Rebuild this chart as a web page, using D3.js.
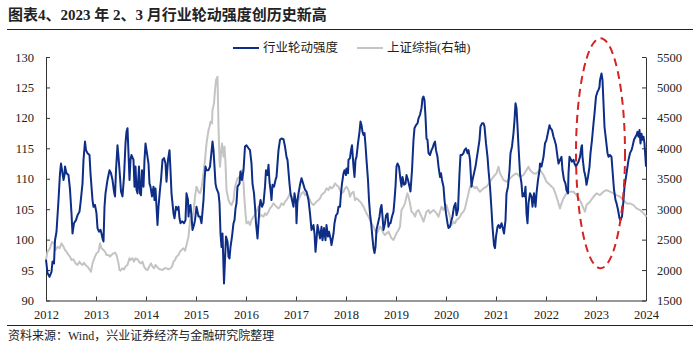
<!DOCTYPE html>
<html>
<head>
<meta charset="utf-8">
<script src="https://cdn.jsdelivr.net/npm/d3@7/dist/d3.min.js"></script>
<style>
  html, body { margin: 0; padding: 0; background: #fff; }
  svg { display: block; }
</style>
</head>
<body>
<svg id="chart" width="700" height="349"></svg>
<script>
// Industry rotation strength (left axis), weekly readings [decimal year, value]
const rotationStrength = [
  [2012.00,96.7],[2012.03,94.5],[2012.07,93.9],[2012.11,94.7],[2012.13,96.4],[2012.16,96.1],[2012.18,99.9],[2012.21,101.3],
  [2012.25,106.5],[2012.28,110.9],[2012.30,112.5],[2012.33,110.9],[2012.35,109.8],[2012.37,110.6],[2012.38,112.0],[2012.41,110.9],
  [2012.45,110.6],[2012.48,108.2],[2012.51,104.3],[2012.53,101.0],[2012.56,102.7],[2012.60,103.2],[2012.63,104.0],[2012.67,104.6],
  [2012.69,106.0],[2012.73,109.2],[2012.75,113.1],[2012.78,116.1],[2012.80,114.7],[2012.83,114.2],[2012.87,113.9],[2012.89,110.9],
  [2012.93,106.5],[2012.95,105.4],[2012.98,105.7],[2013.01,104.3],[2013.03,101.9],[2013.06,101.3],[2013.09,101.6],[2013.11,101.0],
  [2013.13,100.2],[2013.15,99.7],[2013.17,105.4],[2013.19,107.6],[2013.23,109.8],[2013.27,111.4],[2013.30,110.9],[2013.33,109.8],
  [2013.36,107.9],[2013.38,107.1],[2013.40,111.4],[2013.43,115.5],[2013.45,113.6],[2013.48,110.3],[2013.50,107.9],[2013.53,107.1],
  [2013.56,110.3],[2013.59,115.8],[2013.61,117.7],[2013.63,118.3],[2013.65,114.2],[2013.67,109.8],[2013.69,113.1],[2013.71,113.9],
  [2013.75,113.1],[2013.77,108.7],[2013.79,112.0],[2013.81,108.2],[2013.83,107.6],[2013.86,112.0],[2013.88,107.6],[2013.90,107.3],
  [2013.92,111.4],[2013.95,108.7],[2013.97,113.1],[2013.99,115.8],[2014.01,114.7],[2014.05,112.5],[2014.07,109.2],[2014.09,108.7],
  [2014.12,107.1],[2014.15,108.7],[2014.17,106.5],[2014.19,108.4],[2014.21,105.4],[2014.23,102.4],[2014.25,105.4],[2014.28,108.2],
  [2014.30,109.8],[2014.33,113.1],[2014.36,113.4],[2014.39,112.5],[2014.41,109.5],[2014.44,113.1],[2014.47,114.7],[2014.49,111.4],
  [2014.51,107.6],[2014.55,104.3],[2014.57,103.5],[2014.60,105.4],[2014.63,104.9],[2014.65,105.4],[2014.67,103.5],[2014.69,102.7],
  [2014.72,103.0],[2014.76,102.7],[2014.79,103.2],[2014.81,107.6],[2014.84,106.5],[2014.85,103.8],[2014.87,105.4],[2014.89,105.7],
  [2014.91,103.8],[2014.93,101.6],[2014.96,102.4],[2014.98,103.2],[2015.01,105.4],[2015.05,103.8],
  [2015.08,103.8],[2015.11,102.7],[2015.15,106.5],[2015.17,109.8],[2015.19,112.0],[2015.21,111.4],[2015.25,111.4],[2015.28,112.0],
  [2015.30,113.6],[2015.33,116.1],[2015.35,114.7],[2015.37,112.0],[2015.39,109.2],[2015.41,108.4],[2015.45,107.6],[2015.47,106.0],
  [2015.49,101.0],[2015.51,98.8],[2015.53,101.0],[2015.55,95.6],[2015.56,92.8],[2015.58,96.7],[2015.60,100.5],[2015.63,99.7],
  [2015.65,97.2],[2015.67,96.9],[2015.69,98.8],[2015.72,100.5],[2015.75,102.7],[2015.77,103.2],[2015.79,105.1],[2015.81,106.0],
  [2015.83,108.7],[2015.87,109.2],[2015.89,111.2],[2015.92,109.8],[2015.95,111.4],[2015.98,115.3],[2016.01,115.5],[2016.05,115.0],
  [2016.08,114.7],[2016.11,112.5],[2016.13,109.2],[2016.16,107.6],[2016.18,105.4],[2016.20,102.7],[2016.23,100.2],[2016.25,102.7],
  [2016.27,105.4],[2016.29,106.5],[2016.32,105.4],[2016.35,106.0],[2016.38,108.7],[2016.40,111.4],[2016.43,110.6],[2016.45,112.3],
  [2016.47,109.5],[2016.49,108.2],[2016.51,106.5],[2016.53,109.0],[2016.56,108.7],[2016.59,109.8],[2016.61,110.3],[2016.65,114.7],
  [2016.68,116.4],[2016.71,116.6],[2016.75,116.5],[2016.78,115.3],[2016.81,113.6],[2016.83,113.1],[2016.87,109.2],[2016.89,107.6],
  [2016.92,106.5],[2016.95,105.4],[2016.97,107.6],[2017.00,106.0],[2017.01,102.7],[2017.03,106.5],[2017.05,107.6],[2017.08,109.0],
  [2017.11,110.1],[2017.15,109.0],[2017.18,108.2],[2017.21,107.9],[2017.25,106.5],[2017.28,104.3],[2017.31,101.6],[2017.35,102.4],
  [2017.37,101.0],[2017.39,98.0],[2017.41,99.9],[2017.43,102.4],[2017.45,101.6],[2017.48,100.2],[2017.51,102.1],[2017.53,99.9],
  [2017.56,101.9],[2017.59,99.9],[2017.61,102.4],[2017.64,100.5],[2017.66,101.3],[2017.69,100.2],[2017.71,99.1],[2017.75,101.0],
  [2017.77,102.7],[2017.80,104.0],[2017.83,104.3],[2017.85,105.4],[2017.88,105.4],[2017.90,107.6],[2017.92,109.2],[2017.95,110.9],
  [2017.97,111.4],[2018.00,110.6],[2018.01,111.7],[2018.04,110.9],[2018.05,113.1],[2018.08,113.4],[2018.10,114.7],[2018.12,115.5],
  [2018.15,112.0],[2018.17,110.3],[2018.19,113.1],[2018.21,113.6],[2018.24,115.8],[2018.27,117.7],[2018.29,119.4],[2018.31,118.8],
  [2018.33,117.7],[2018.35,117.2],[2018.37,117.5],[2018.39,115.5],[2018.41,113.1],[2018.44,109.8],[2018.46,106.5],[2018.48,104.3],
  [2018.51,102.1],[2018.53,100.2],[2018.55,98.6],[2018.57,97.8],[2018.59,98.8],[2018.61,101.6],[2018.64,102.7],[2018.67,103.8],
  [2018.69,105.1],[2018.71,105.7],[2018.73,103.8],[2018.75,101.6],[2018.78,102.7],[2018.80,104.0],[2018.83,104.3],[2018.85,102.1],
  [2018.87,102.7],[2018.89,102.7],[2018.92,103.8],[2018.95,104.6],[2018.97,106.5],[2018.99,108.7],[2019.01,112.0],[2019.03,112.5],
  [2019.06,112.0],[2019.09,109.8],[2019.11,108.7],[2019.13,110.3],[2019.16,109.0],[2019.19,109.2],[2019.21,110.6],[2019.24,109.8],
  [2019.27,108.7],[2019.29,107.9],[2019.32,111.4],[2019.35,116.4],[2019.37,118.3],[2019.40,118.8],[2019.43,119.1],[2019.45,119.9],
  [2019.48,120.5],[2019.51,121.6],[2019.53,123.2],[2019.55,123.5],[2019.57,122.9],[2019.59,120.2],[2019.61,116.6],[2019.63,116.4],
  [2019.65,114.2],[2019.68,113.9],[2019.71,114.7],[2019.73,115.0],[2019.76,115.8],[2019.78,116.1],[2019.80,114.7],[2019.83,113.6],
  [2019.85,112.0],[2019.88,110.3],[2019.90,110.9],[2019.92,109.8],[2019.95,108.7],[2019.97,106.5],[2020.00,104.3],[2020.03,102.7],
  [2020.05,101.9],[2020.08,102.1],[2020.11,103.2],[2020.13,103.8],[2020.16,105.4],[2020.19,106.0],[2020.21,104.0],[2020.24,104.9],
  [2020.27,110.9],[2020.29,113.9],[2020.32,113.9],[2020.35,114.2],[2020.37,114.7],[2020.40,115.0],[2020.43,114.2],[2020.45,114.7],
  [2020.48,113.1],[2020.51,108.7],[2020.53,109.8],[2020.56,110.9],[2020.59,112.0],[2020.61,113.1],[2020.64,114.7],[2020.67,116.4],
  [2020.69,118.6],[2020.72,119.1],[2020.75,119.1],[2020.77,118.6],[2020.80,115.8],[2020.83,113.6],[2020.85,111.4],[2020.88,108.7],
  [2020.91,104.9],[2020.93,102.1],[2020.96,99.1],[2020.98,98.6],[2021.00,100.5],[2021.03,102.1],[2021.05,102.4],[2021.08,101.9],
  [2021.11,102.7],[2021.13,102.1],[2021.16,101.0],[2021.19,103.2],[2021.21,107.6],[2021.24,108.7],[2021.27,111.4],[2021.29,114.2],
  [2021.32,115.3],[2021.35,117.5],[2021.37,119.6],[2021.39,122.4],[2021.41,121.6],[2021.43,118.6],[2021.45,115.3],[2021.48,110.9],
  [2021.51,109.2],[2021.53,107.1],[2021.55,107.6],[2021.57,107.1],[2021.59,108.7],[2021.61,104.3],[2021.63,102.7],[2021.65,106.0],
  [2021.68,107.6],[2021.71,107.1],[2021.73,105.4],[2021.76,107.6],[2021.79,105.4],[2021.81,107.6],[2021.84,109.8],[2021.87,111.4],
  [2021.88,112.5],[2021.91,112.0],[2021.95,113.6],[2021.98,115.8],[2022.01,116.4],[2022.05,118.0],[2022.07,118.8],[2022.09,118.3],
  [2022.12,118.0],[2022.15,116.9],[2022.17,116.4],[2022.20,115.5],[2022.23,113.6],[2022.25,112.5],[2022.28,113.1],[2022.31,113.6],
  [2022.33,111.4],[2022.36,109.8],[2022.39,109.2],[2022.41,108.1],[2022.44,107.6],[2022.45,110.9],[2022.47,113.6],[2022.49,113.3],
  [2022.52,112.8],[2022.55,113.1],[2022.57,112.5],[2022.60,112.0],[2022.63,112.5],[2022.65,112.8],[2022.68,113.6],[2022.71,115.3],
  [2022.72,115.5],[2022.73,113.6],[2022.76,111.4],[2022.79,110.3],[2022.81,109.0],[2022.84,110.3],[2022.87,112.0],[2022.89,114.2],
  [2022.92,116.4],[2022.95,119.1],[2022.97,120.7],[2023.00,123.5],[2023.03,124.3],[2023.05,124.6],[2023.07,125.1],[2023.08,126.2],
  [2023.11,127.3],[2023.13,126.2],[2023.15,122.4],[2023.17,118.5],[2023.20,116.4],[2023.23,114.2],[2023.25,113.6],[2023.28,113.9],
  [2023.31,113.6],[2023.33,111.4],[2023.36,108.2],[2023.39,106.5],[2023.41,106.0],[2023.44,104.9],[2023.47,103.5],[2023.49,103.2],
  [2023.52,103.8],[2023.55,106.5],[2023.57,108.7],[2023.60,110.3],[2023.63,112.0],[2023.65,113.1],[2023.68,114.2],[2023.71,114.7],
  [2023.73,115.3],[2023.76,116.4],[2023.79,116.9],[2023.81,117.2],[2023.83,117.7],[2023.85,116.9],[2023.87,118.0],[2023.89,115.8],
  [2023.91,117.4],[2023.93,116.4],[2023.95,116.9],[2023.97,115.8],[2024.00,112.0]
];

// Shanghai Composite Index (right axis), [decimal year, points]
const shanghaiComposite = [
  [2012.00,2165],[2012.03,2302],[2012.08,2357],[2012.12,2466],[2012.16,2439],[2012.19,2329],[2012.23,2384],[2012.27,2357],
  [2012.31,2439],[2012.35,2384],[2012.38,2329],[2012.41,2302],[2012.45,2247],[2012.48,2220],[2012.51,2165],[2012.55,2176],
  [2012.59,2110],[2012.63,2083],[2012.67,2138],[2012.69,2110],[2012.73,2083],[2012.76,2121],[2012.79,2083],[2012.83,2056],
  [2012.87,2012],[2012.90,1974],[2012.93,2110],[2012.98,2220],[2013.01,2275],[2013.05,2302],[2013.08,2439],[2013.11,2357],
  [2013.15,2329],[2013.18,2302],[2013.21,2247],[2013.25,2247],[2013.28,2220],[2013.31,2247],[2013.35,2275],[2013.38,2286],
  [2013.41,2247],[2013.45,2110],[2013.47,2001],[2013.49,1990],[2013.53,2028],[2013.56,2012],[2013.60,2067],[2013.63,2083],
  [2013.67,2193],[2013.69,2165],[2013.73,2193],[2013.76,2138],[2013.79,2193],[2013.83,2176],[2013.86,2138],[2013.89,2110],
  [2013.93,2138],[2013.96,2056],[2014.00,2012],[2014.03,2001],[2014.07,2067],[2014.10,2110],[2014.13,2056],[2014.16,2028],
  [2014.19,2083],[2014.23,2045],[2014.27,2012],[2014.29,2012],[2014.33,2001],[2014.37,2028],[2014.41,2028],[2014.45,2012],
  [2014.49,2028],[2014.52,2056],[2014.55,2138],[2014.58,2165],[2014.61,2220],[2014.65,2247],[2014.68,2302],[2014.71,2329],
  [2014.75,2357],[2014.78,2318],[2014.81,2411],[2014.85,2548],[2014.87,2713],[2014.89,2877],[2014.92,2822],[2014.95,2959],
  [2014.98,3205],[2015.01,3369],[2015.05,3287],
  [2015.08,3260],[2015.11,3342],[2015.15,3588],[2015.18,3807],[2015.21,4081],[2015.25,4300],[2015.27,4354],[2015.29,4437],
  [2015.32,4409],[2015.33,4628],[2015.36,4738],[2015.38,4956],[2015.40,5121],[2015.43,5175],[2015.45,4354],[2015.47,3807],
  [2015.48,3698],[2015.50,3917],[2015.52,4081],[2015.55,3862],[2015.57,4026],[2015.59,3752],[2015.61,3314],[2015.65,3150],
  [2015.68,3096],[2015.71,3068],[2015.75,3150],[2015.78,3369],[2015.80,3424],[2015.83,3506],[2015.87,3533],[2015.89,3588],
  [2015.92,3643],[2015.95,3424],[2015.97,3150],[2015.99,2931],[2016.01,2767],[2016.05,2795],[2016.08,2740],[2016.11,2822],
  [2016.15,2877],[2016.18,2904],[2016.21,2959],[2016.25,3041],[2016.28,2877],[2016.31,2904],[2016.35,2877],[2016.38,2931],
  [2016.41,2904],[2016.45,2959],[2016.48,3013],[2016.51,3041],[2016.55,3096],[2016.58,3068],[2016.61,3041],[2016.65,3013],
  [2016.68,3041],[2016.71,3096],[2016.75,3068],[2016.78,3123],[2016.81,3150],[2016.85,3205],[2016.88,3260],[2016.91,3205],
  [2016.95,3150],[2016.98,3123],[2017.01,3096],[2017.05,3150],[2017.08,3205],[2017.11,3260],[2017.15,3287],[2017.18,3232],
  [2017.21,3260],[2017.25,3205],[2017.28,3150],[2017.31,3096],[2017.35,3068],[2017.38,3096],[2017.41,3123],[2017.45,3150],
  [2017.48,3178],[2017.51,3232],[2017.55,3260],[2017.58,3287],[2017.61,3342],[2017.65,3314],[2017.68,3369],[2017.71,3342],
  [2017.75,3369],[2017.78,3424],[2017.81,3397],[2017.85,3369],[2017.88,3314],[2017.91,3260],[2017.95,3287],[2017.98,3342],
  [2018.01,3369],[2018.05,3314],[2018.08,3205],[2018.11,3260],[2018.15,3287],[2018.18,3150],[2018.21,3178],[2018.25,3150],
  [2018.28,3123],[2018.31,3096],[2018.35,3041],[2018.38,2986],[2018.41,2931],[2018.45,2877],[2018.48,2822],[2018.51,2767],
  [2018.55,2713],[2018.58,2658],[2018.61,2603],[2018.65,2658],[2018.68,2713],[2018.71,2685],[2018.75,2603],[2018.78,2576],
  [2018.81,2603],[2018.85,2630],[2018.88,2576],[2018.91,2521],[2018.95,2494],[2018.98,2548],[2019.01,2603],[2019.05,2658],
  [2019.08,2713],[2019.11,2986],[2019.15,3041],[2019.18,3096],[2019.21,3205],[2019.23,3260],[2019.25,3205],[2019.28,3096],
  [2019.31,2959],[2019.35,2931],[2019.38,2877],[2019.41,2959],[2019.45,2986],[2019.48,2931],[2019.51,2877],[2019.55,2795],
  [2019.58,2877],[2019.61,2959],[2019.65,2986],[2019.68,2931],[2019.71,2959],[2019.75,2986],[2019.78,2959],[2019.81,2931],
  [2019.85,2877],[2019.88,2959],[2019.91,3041],[2019.95,2986],[2019.98,3041],[2020.01,3068],[2020.05,2959],[2020.08,2877],
  [2020.11,2740],[2020.15,2795],[2020.18,2767],[2020.21,2822],[2020.25,2849],[2020.28,2877],[2020.31,2931],[2020.35,2959],
  [2020.38,3013],[2020.41,3123],[2020.45,3260],[2020.48,3369],[2020.51,3397],[2020.55,3369],[2020.58,3342],[2020.61,3369],
  [2020.65,3314],[2020.68,3287],[2020.75,3342],[2020.81,3369],[2020.88,3451],[2020.95,3533],[2021.01,3588],[2021.05,3697],
  [2021.08,3588],[2021.15,3478],[2021.21,3451],[2021.28,3506],[2021.35,3561],[2021.41,3588],[2021.48,3533],[2021.55,3561],
  [2021.61,3643],[2021.65,3697],[2021.68,3643],[2021.75,3588],[2021.81,3588],[2021.88,3643],[2021.95,3561],[2022.01,3451],
  [2022.08,3396],[2022.15,3342],[2022.21,3205],[2022.28,3013],[2022.31,3095],[2022.35,3177],[2022.41,3260],[2022.48,3287],
  [2022.55,3287],[2022.61,3232],[2022.68,3150],[2022.75,3013],[2022.78,2959],[2022.81,3068],[2022.88,3123],[2022.95,3205],
  [2023.01,3260],[2023.08,3232],[2023.15,3287],[2023.21,3314],[2023.28,3287],[2023.35,3260],[2023.41,3232],[2023.48,3205],
  [2023.55,3150],[2023.61,3095],[2023.68,3095],[2023.75,3068],[2023.81,3013],[2023.88,2986],[2023.95,2931],[2024.01,2876]
];

const leftTicks = [90, 95, 100, 105, 110, 115, 120, 125, 130];
const rightTicks = [1500, 2000, 2500, 3000, 3500, 4000, 4500, 5000, 5500];
const yearTicks = [2012, 2013, 2014, 2015, 2016, 2017, 2018, 2019, 2020, 2021, 2022, 2023, 2024];

const titleText = "图表4、2023 年 2、3 月行业轮动强度创历史新高";
const sourceText = "资料来源：Wind，兴业证券经济与金融研究院整理";
const seriesNames = ["行业轮动强度", "上证综指(右轴)"];
// highlighted window: Feb–Mar 2023 record high
const highlight = { from: 2022.6, to: 2023.58, low: 95.3, high: 133.1 };

const colors = { rotation: "#0d2d86", index: "#c4c4c4", highlight: "#d42424", axis: "#333" };
const numFont = '"Liberation Serif", "Times New Roman", serif';
const cjkFont = '"Liberation Serif", "Noto Sans CJK SC", serif';

const svg = d3.select("#chart");
const plot = { left: 46, right: 646, top: 57, bottom: 300.5 };

const x = d3.scaleLinear().domain([2012, 2024]).range([plot.left, plot.right]);
const yL = d3.scaleLinear().domain([90, 130]).range([plot.bottom, plot.top]);
const yR = d3.scaleLinear().domain([1500, 5500]).range([plot.bottom, plot.top]);

// title and rule
svg.append("text")
  .attr("x", 8).attr("y", 20)
  .style("font-family", cjkFont).style("font-size", "15px").style("font-weight", "700").style("fill", "#222")
  .text(titleText);
svg.append("line").attr("x1", 7).attr("x2", 693).attr("y1", 29.5).attr("y2", 29.5)
  .attr("stroke", "#222").attr("stroke-width", 1.2);

// axes
const fmt = d3.format("d");
const axisL = svg.append("g").attr("transform", `translate(${plot.left},0)`)
  .call(d3.axisLeft(yL).tickValues(leftTicks).tickFormat(fmt).tickSizeInner(-4).tickSizeOuter(0).tickPadding(12));
const axisR = svg.append("g").attr("transform", `translate(${plot.right},0)`)
  .call(d3.axisRight(yR).tickValues(rightTicks).tickFormat(fmt).tickSizeInner(-4).tickSizeOuter(0).tickPadding(11));
const axisB = svg.append("g").attr("transform", `translate(0,${plot.bottom})`)
  .call(d3.axisBottom(x).tickValues(yearTicks).tickFormat(fmt).tickSizeInner(-4).tickSizeOuter(0).tickPadding(10));
[axisL, axisR, axisB].forEach(g => {
  g.attr("font-family", numFont).attr("font-size", 12.5);
  g.selectAll("path.domain").attr("stroke", colors.axis).attr("stroke-width", 1);
  g.selectAll(".tick line").attr("stroke", colors.axis);
  g.selectAll(".tick text").attr("fill", "#222");
});

// series lines
const lineL = d3.line().x(d => x(d[0])).y(d => yL(d[1]));
const lineR = d3.line().x(d => x(d[0])).y(d => yR(d[1]));

svg.append("path").datum(shanghaiComposite)
  .attr("d", lineR).attr("fill", "none")
  .attr("stroke", colors.index).attr("stroke-width", 2).attr("stroke-linejoin", "round");
svg.append("path").datum(rotationStrength)
  .attr("d", lineL).attr("fill", "none")
  .attr("stroke", colors.rotation).attr("stroke-width", 2).attr("stroke-linejoin", "round");

// dashed ellipse marking the record high
svg.append("ellipse")
  .attr("cx", (x(highlight.from) + x(highlight.to)) / 2)
  .attr("cy", (yL(highlight.low) + yL(highlight.high)) / 2)
  .attr("rx", (x(highlight.to) - x(highlight.from)) / 2)
  .attr("ry", (yL(highlight.low) - yL(highlight.high)) / 2)
  .attr("fill", "none").attr("stroke", colors.highlight)
  .attr("stroke-width", 2).attr("stroke-dasharray", "8,5");

// legend
const legend = svg.append("g").attr("transform", "translate(233,48)");
const legendItems = [
  { name: seriesNames[0], color: colors.rotation, dx: 0 },
  { name: seriesNames[1], color: colors.index, dx: 124 }
];
legendItems.forEach(item => {
  const g = legend.append("g").attr("transform", `translate(${item.dx},0)`);
  g.append("line").attr("x1", 0).attr("x2", 26).attr("y1", 0).attr("y2", 0)
    .attr("stroke", item.color).attr("stroke-width", 2);
  g.append("text").attr("x", 30).attr("y", 0).attr("dy", "0.35em")
    .style("font-family", cjkFont).style("font-size", "12.5px").style("fill", "#222")
    .text(item.name);
});

// source note and rule
svg.append("line").attr("x1", 7).attr("x2", 693).attr("y1", 325.5).attr("y2", 325.5)
  .attr("stroke", "#222").attr("stroke-width", 1);
svg.append("text")
  .attr("x", 8).attr("y", 336).attr("dy", "0.35em")
  .style("font-family", cjkFont).style("font-size", "12px").style("fill", "#222")
  .text(sourceText);
</script>
</body>
</html>
